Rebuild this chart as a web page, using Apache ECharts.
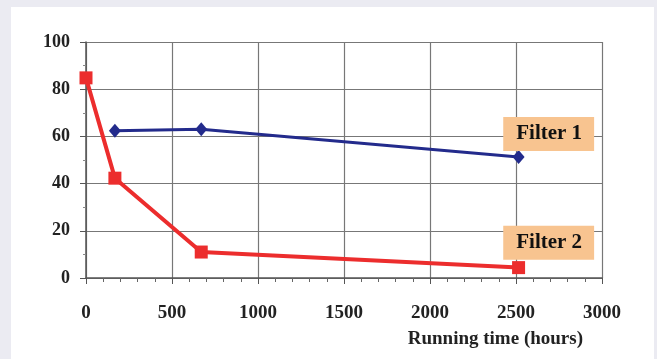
<!DOCTYPE html>
<html>
<head>
<meta charset="utf-8">
<script src="https://cdn.jsdelivr.net/npm/echarts@6/dist/echarts.min.js"></script>
<style>
  html, body { margin: 0; padding: 0; background: #ebebf2; width: 657px; height: 359px; overflow: hidden; }
  #chart { position: absolute; left: 11px; top: 7px; width: 643px; height: 352px; background: #fff; }
</style>
</head>
<body>
<div id="chart"></div>
<script>
// running time (hours) and values
const filter1Hours = [168, 670, 2515]
const filter1Values = [62.4, 63, 51.3]
const filter2Hours = [0, 168, 670, 2515]
const filter2Values = [84.8, 42.3, 11, 4.4]
const labelPos1 = [2690, 61]
const labelPos2 = [2690, 14.9]

const serif = '"Liberation Serif", "Times New Roman", serif'
const chart = echarts.init(document.getElementById('chart'))

function boxLabel(text, coord) {
  return {
    symbol: 'rect',
    symbolSize: 0,
    silent: true,
    data: [{
      coord,
      label: {
        show: true,
        position: 'inside',
        formatter: text,
        fontFamily: serif,
        fontWeight: 'bold',
        fontSize: 21,
        color: '#111',
        backgroundColor: '#f8c490',
        padding: [7, 12, 6, 13],
      },
    }],
  }
}

chart.setOption({
  animation: false,
  grid: { left: 75, right: 52, top: 35, bottom: 81 },
  xAxis: {
    type: 'value',
    min: 0,
    max: 3000,
    interval: 500,
    name: 'Running time (hours)',
    nameLocation: 'end',
    nameGap: 0,
    nameTextStyle: {
      fontFamily: serif, fontWeight: 'bold', fontSize: 19, color: '#222',
      align: 'right', verticalAlign: 'top', padding: [52, 19, 0, 0],
    },
    axisLine: { lineStyle: { color: '#555', width: 1.5 } },
    axisTick: { show: true, length: 6, lineStyle: { color: '#555' } },
    minorTick: { show: true, splitNumber: 5, length: 4, lineStyle: { color: '#666' } },
    axisLabel: {
      margin: 26, fontFamily: serif, fontWeight: 'bold', fontSize: 19, color: '#222',
      formatter: (v) => String(v),
    },
    splitLine: { show: true, lineStyle: { color: '#777', width: 1.2 } },
  },
  yAxis: {
    type: 'value',
    min: 0,
    max: 100,
    interval: 20,
    axisLine: { show: true, lineStyle: { color: '#555', width: 1.5 } },
    axisTick: { show: true, length: 6, lineStyle: { color: '#555' } },
    minorTick: { show: true, splitNumber: 2, length: 3, lineStyle: { color: '#888' } },
    axisLabel: { margin: 16, fontFamily: serif, fontWeight: 'bold', fontSize: 18, color: '#222' },
    splitLine: { show: true, lineStyle: { color: '#777', width: 1.2 } },
  },
  series: [
    {
      name: 'Filter 1',
      type: 'line',
      data: filter1Hours.map((h, i) => [h, filter1Values[i]]),
      symbol: 'diamond',
      symbolSize: [12, 14],
      lineStyle: { color: '#232b8c', width: 3 },
      itemStyle: { color: '#232b8c' },
      markPoint: boxLabel('Filter 1', labelPos1),
    },
    {
      name: 'Filter 2',
      type: 'line',
      data: filter2Hours.map((h, i) => [h, filter2Values[i]]),
      symbol: 'rect',
      symbolSize: 13,
      lineStyle: { color: '#ec2d2d', width: 4 },
      itemStyle: { color: '#ec2d2d' },
      markPoint: boxLabel('Filter 2', labelPos2),
    },
  ],
})
</script>
</body>
</html>
